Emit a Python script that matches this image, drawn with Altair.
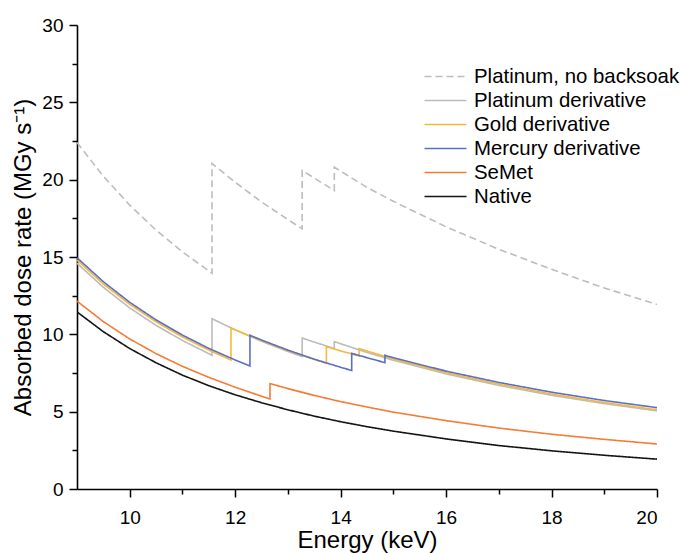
import altair as alt
import pandas as pd

series_names = ["Platinum, no backsoak", "Platinum derivative", "Gold derivative",
                "Mercury derivative", "SeMet", "Native"]
colors = ["#BDBDBD", "#BCBCBC", "#F5B83D", "#5B70C2", "#F47C34", "#141414"]
dashes = [[7, 4], [1, 0], [1, 0], [1, 0], [1, 0], [1, 0]]

# Energy (keV) / absorbed dose rate (MGy s^-1)
pt_nb_e = [9, 9.5, 10, 10.5, 11, 11.5, 11.56, 11.56, 12, 12.5, 13, 13.27, 13.27, 13.5,
           13.88, 13.88, 14, 14.5, 15, 16, 17, 18, 19, 20]
pt_nb_v = [22.4, 20.22, 18.35, 16.74, 15.33, 14.1, 13.94, 21.05, 19.83, 18.56, 17.42, 16.83,
           20.6, 20.1, 19.3, 20.8, 20.55, 19.5, 18.6, 16.95, 15.5, 14.2, 13.0, 11.93]

pt_e = [9, 9.5, 10, 10.5, 11, 11.5, 11.56, 11.56, 12, 12.5, 13, 13.27, 13.27, 13.5,
        13.88, 13.88, 14, 14.5, 15, 16, 17, 18, 19, 20]
pt_v = [14.6, 13.04, 11.71, 10.58, 9.6, 8.75, 8.64, 11.01, 10.29, 9.55, 8.89, 8.56,
        9.76, 9.5, 9.08, 9.53, 9.39, 8.83, 8.32, 7.44, 6.70, 6.06, 5.52, 5.05]

au_e = [9, 9.5, 10, 10.5, 11, 11.5, 11.92, 11.92, 12, 12.5, 13, 13.5, 13.73, 13.73,
        14, 14.35, 14.35, 14.5, 15, 16, 17, 18, 19, 20]
au_v = [14.8, 13.25, 11.94, 10.81, 9.83, 8.98, 8.34, 10.41, 10.29, 9.58, 8.95, 8.38,
        8.13, 9.2, 8.93, 8.6, 9.08, 8.92, 8.41, 7.52, 6.78, 6.14, 5.59, 5.12]

hg_e = [9, 9.5, 10, 10.5, 11, 11.5, 12, 12.28, 12.28, 12.5, 13, 13.5, 14, 14.21, 14.21,
        14.5, 14.84, 14.84, 15, 16, 17, 18, 19, 20]
hg_v = [14.95, 13.40, 12.07, 10.93, 9.95, 9.09, 8.34, 7.95, 9.94, 9.63, 8.98, 8.39, 7.87,
        7.66, 8.77, 8.49, 8.17, 8.64, 8.49, 7.62, 6.89, 6.26, 5.72, 5.26]

se_e = [9, 9.5, 10, 10.5, 11, 11.5, 12, 12.5, 12.66, 12.66, 13, 13.5, 14, 14.5, 15,
        16, 17, 18, 19, 20]
se_v = [12.15, 10.82, 9.7, 8.75, 7.93, 7.22, 6.58, 6.0, 5.82, 6.82, 6.49, 6.05, 5.65,
        5.30, 4.97, 4.42, 3.94, 3.54, 3.21, 2.91]

nat_e = [9, 9.5, 10, 10.5, 11, 11.5, 12, 12.5, 13, 13.5, 14, 14.5, 15, 16, 17, 18, 19, 20]
nat_v = [11.45, 10.17, 9.08, 8.16, 7.36, 6.68, 6.09, 5.58, 5.12, 4.71, 4.35, 4.03, 3.74,
         3.24, 2.81, 2.47, 2.18, 1.93]

x_ticks = [10, 11, 12, 13, 14, 15, 16, 17, 18, 19, 20]
y_ticks = [0, 2.5, 5, 7.5, 10, 12.5, 15, 17.5, 20, 22.5, 25, 27.5, 30]

series_data = [
    (series_names[0], pt_nb_e, pt_nb_v),
    (series_names[1], pt_e, pt_v),
    (series_names[2], au_e, au_v),
    (series_names[3], hg_e, hg_v),
    (series_names[4], se_e, se_v),
    (series_names[5], nat_e, nat_v),
]
rows = []
for name, es, vs in series_data:
    for i, (e, v) in enumerate(zip(es, vs)):
        rows.append({"series": name, "energy": e, "dose": v, "idx": i})
df = pd.DataFrame(rows)

FONT = "Liberation Sans"

legend = alt.Legend(
    title=None, orient="none", legendX=357, legendY=40, padding=0,
    symbolType="M-2,0H2", symbolSize=441, symbolStrokeWidth=1.5,
    labelFontSize=20.4, labelFont=FONT, labelColor="#000000", labelOffset=17,
    rowPadding=2, labelLimit=400,
)

chart = alt.Chart(df).mark_line(strokeWidth=1.6, clip=True).encode(
    x=alt.X("energy:Q", title="Energy (keV)",
            scale=alt.Scale(domain=[9, 20], nice=False, zero=False),
            axis=alt.Axis(values=x_ticks,
                          labelExpr="datum.value % 2 === 0 ? datum.label : ''",
                          tickSize={"condition": {"test": "datum.value % 2 === 0", "value": 8}, "value": 5},
                          labelPadding=11, titlePadding=1)),
    y=alt.Y("dose:Q", title="Absorbed dose rate (MGy s⁻¹)",
            scale=alt.Scale(domain=[0, 30], nice=False),
            axis=alt.Axis(values=y_ticks,
                          labelExpr="datum.value % 5 === 0 ? datum.label : ''",
                          tickSize={"condition": {"test": "datum.value % 5 === 0", "value": 8}, "value": 5},
                          labelPadding=6, titlePadding=6)),
    color=alt.Color("series:N", scale=alt.Scale(domain=series_names, range=colors), legend=legend),
    strokeDash=alt.StrokeDash("series:N", scale=alt.Scale(domain=series_names, range=dashes), legend=legend),
    order=alt.Order("idx:Q"),
).properties(
    width=580, height=464,
    autosize=alt.AutoSizeParams(type="none"),
    padding={"left": 77, "top": 25, "right": 23, "bottom": 64},
).configure_view(stroke=None).configure_axis(
    domainColor="#000000", domainWidth=1.6, tickColor="#000000", tickWidth=1.5,
    labelFont=FONT, labelFontSize=19, labelColor="#000000",
    titleFont=FONT, titleFontSize=24, titleFontWeight="normal", titleColor="#000000",
    grid=False,
)

chart.save("out.html", embed_options={"renderer": "svg", "actions": False})
